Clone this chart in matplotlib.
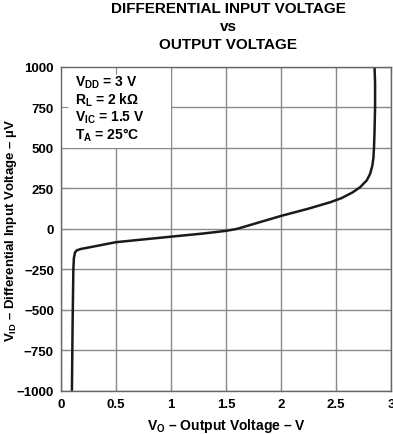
import matplotlib
matplotlib.use('Agg')
from matplotlib import pyplot as plt
from matplotlib.patches import Rectangle

# curve (V_O in V, V_ID in uV)
vo = [0.100, 0.103, 0.106, 0.110, 0.113, 0.118, 0.128, 0.145, 0.18, 0.25, 0.5, 1.0, 1.3, 1.5,
      1.6, 1.8, 2.0, 2.25, 2.45, 2.55, 2.65, 2.72, 2.78, 2.81, 2.83, 2.84, 2.845, 2.85, 2.855, 2.855, 2.85]
vid = [-1000, -800, -600, -400, -250, -180, -145, -132, -124, -115, -82, -48, -28, -12,
       0, 40, 80, 125, 165, 190, 225, 258, 300, 340, 390, 440, 500, 600, 750, 900, 1000]

xticks = [0, 0.5, 1, 1.5, 2, 2.5, 3]
xtick_labels = ['0', '0.5', '1', '1.5', '2', '2.5', '3']
yticks = [-1000, -750, -500, -250, 0, 250, 500, 750, 1000]
ytick_labels = ['\u22121000', '\u2212750', '\u2212500', '\u2212250', '0', '250', '500', '750', '1000']

plt.rcParams['font.family'] = ['Liberation Sans', 'DejaVu Sans']
plt.rcParams['font.weight'] = 'bold'
plt.rcParams['mathtext.fontset'] = 'custom'
plt.rcParams['mathtext.rm'] = 'Liberation Sans:bold'
plt.rcParams['mathtext.bf'] = 'Liberation Sans:bold'
plt.rcParams['mathtext.default'] = 'bf'

fig = plt.figure(figsize=(3.93, 4.35), dpi=100)
ax = fig.add_axes([0.155, 0.099, 0.840, 0.745])

gridc = '#8a8a8a'
for x in xticks:
    ax.axvline(x, color=gridc, lw=1.0, zorder=0.5)
for y in yticks:
    ax.axhline(y, color=gridc, lw=1.0, zorder=0.5)
ax.add_patch(Rectangle((0, 500), 1.0, 500, facecolor='white', edgecolor='none', zorder=1))

ax.plot(vo, vid, color='#1a1a1a', lw=1.8, zorder=3, solid_capstyle='butt')

ax.set_xlim(0, 3)
ax.set_ylim(-1000, 1000)
ax.set_xticks(xticks)
ax.set_xticklabels(xtick_labels, fontsize=9.5, fontweight='bold')
ax.set_yticks(yticks)
ax.set_yticklabels(ytick_labels, fontsize=9.5, fontweight='bold')
ax.tick_params(direction='in', length=5, color=gridc, top=True, right=True, pad=5)
for s in ax.spines.values():
    s.set_color('#666666')
    s.set_linewidth(1.0)
    s.set_zorder(4)

ax.text(0.13, 905, '$V_{DD}$ = 3 V', fontsize=10, fontweight='bold', va='center', zorder=2)
ax.text(0.13, 798, '$R_L$ = 2 k\u03a9', fontsize=10, fontweight='bold', va='center', zorder=2)
ax.text(0.13, 692, '$V_{IC}$ = 1.5 V', fontsize=10, fontweight='bold', va='center', zorder=2)
ax.text(0.13, 585, '$T_A$ = 25\u00b0C', fontsize=10, fontweight='bold', va='center', zorder=2)

ax.set_xlabel('$V_O$ \u2013 Output Voltage \u2013 V', fontsize=10, fontweight='bold')
ax.xaxis.set_label_coords(0.5, -0.076)
ax.set_ylabel('$V_{ID}$ \u2013 Differential Input Voltage \u2013 \u00b5V', fontsize=9.5,
              fontweight='bold')
ax.yaxis.set_label_coords(-0.128, 0.5)

fig.text(0.58, 0.995, 'DIFFERENTIAL INPUT VOLTAGE', ha='center', va='top', fontsize=11, fontweight='bold')
fig.text(0.58, 0.953, 'vs', ha='center', va='top', fontsize=11, fontweight='bold')
fig.text(0.58, 0.912, 'OUTPUT VOLTAGE', ha='center', va='top', fontsize=11, fontweight='bold')

fig.savefig('out.png', dpi=100)
